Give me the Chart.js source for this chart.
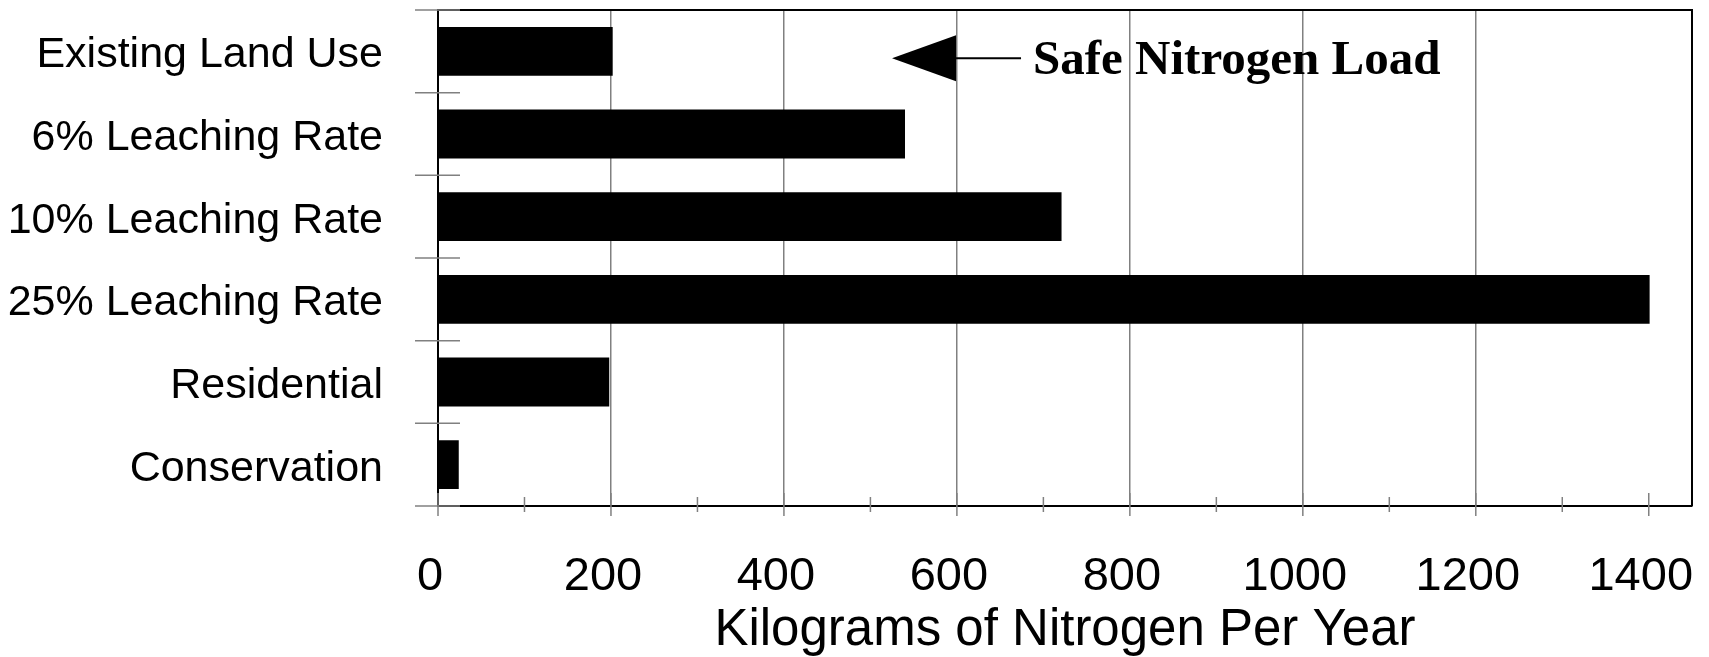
<!DOCTYPE html>
<html>
<head>
<meta charset="utf-8">
<script src="https://cdn.jsdelivr.net/npm/chart.js@4/dist/chart.umd.min.js"></script>
<style>
  body { margin: 0; background: #fff; }
  #box { width: 1709px; height: 657px; }
</style>
</head>
<body>
<div id="box"><canvas id="nitrogenChart"></canvas></div>
<script>
const categories = [
  "Existing Land Use",
  "6% Leaching Rate",
  "10% Leaching Rate",
  "25% Leaching Rate",
  "Residential",
  "Conservation",
];
const loads = [202, 540, 721, 1401, 198, 24];
const xMin = 0;
const xMax = 1450;
const xStep = 100;
const xLabelStep = 200;
const xTitle = "Kilograms of Nitrogen Per Year";
const noteText = "Safe Nitrogen Load";
const noteValue = 525;

const gray = "#808080";
const sans = "'Liberation Sans', Arial, sans-serif";

const extras = {
  id: "extras",
  afterDraw(chart) {
    const { ctx, chartArea: area } = chart;
    const x = chart.scales.x;
    const y = chart.scales.y;
    ctx.save();

    // top and right frame
    ctx.strokeStyle = "#000";
    ctx.lineWidth = 2;
    ctx.beginPath();
    ctx.moveTo(area.left, area.top);
    ctx.lineTo(area.right, area.top);
    ctx.lineTo(area.right, area.bottom);
    ctx.stroke();

    // tick marks that cross the axes
    ctx.strokeStyle = gray;
    ctx.lineWidth = 1.5;
    x.ticks.forEach((t) => {
      const px = x.getPixelForValue(t.value);
      const major = t.value % xLabelStep === 0;
      ctx.beginPath();
      ctx.moveTo(px, area.bottom - (major ? 13 : 9));
      ctx.lineTo(px, area.bottom + (major ? 10 : 6));
      ctx.stroke();
    });
    for (let i = 0; i <= categories.length; i++) {
      const py = y.getPixelForValue(i - 0.5);
      ctx.beginPath();
      ctx.moveTo(area.left - 23, py);
      ctx.lineTo(area.left + 22, py);
      ctx.stroke();
    }

    // arrow + note
    const tx = x.getPixelForValue(noteValue);
    const cy = y.getPixelForValue(0) + 7;
    ctx.fillStyle = "#000";
    ctx.beginPath();
    ctx.moveTo(tx, cy);
    ctx.lineTo(tx + 64, cy - 23);
    ctx.lineTo(tx + 64, cy + 23);
    ctx.closePath();
    ctx.fill();
    ctx.strokeStyle = "#000";
    ctx.lineWidth = 2;
    ctx.beginPath();
    ctx.moveTo(tx + 64, cy);
    ctx.lineTo(tx + 129, cy);
    ctx.stroke();
    ctx.font = "bold 49px 'Liberation Serif', 'Times New Roman', serif";
    ctx.textBaseline = "alphabetic";
    ctx.textAlign = "left";
    ctx.fillText(noteText, tx + 141, cy + 16);
    ctx.restore();
  },
};

const nitrogenChart = new Chart(document.getElementById("nitrogenChart"), {
  type: "bar",
  data: {
    labels: categories,
    datasets: [
      {
        data: loads,
        backgroundColor: "#000",
        borderWidth: 0,
        barPercentage: 0.59,
        categoryPercentage: 1,
      },
    ],
  },
  options: {
    indexAxis: "y",
    responsive: true,
    maintainAspectRatio: false,
    animation: false,
    layout: { padding: { top: 10, right: 17, left: 0, bottom: 0 } },
    plugins: {
      legend: { display: false },
      tooltip: { enabled: false },
    },
    scales: {
      x: {
        min: xMin,
        max: xMax,
        afterFit: (scale) => {
          scale.height = 151;
          scale.paddingLeft = 0;
          scale.paddingRight = 0;
        },
        title: {
          display: true,
          text: xTitle,
          color: "#000",
          padding: { top: 0, bottom: 1 },
          font: { family: sans, size: 51, lineHeight: 1 },
        },
        grid: {
          drawTicks: false,
          lineWidth: 1.5,
          color: (c) => {
            const v = c.tick ? c.tick.value : 0;
            return v > 0 && v < 1400 && v % xLabelStep === 0 ? gray : "rgba(0,0,0,0)";
          },
        },
        border: { color: "#000", width: 2 },
        ticks: {
          stepSize: xStep,
          includeBounds: false,
          autoSkip: false,
          maxRotation: 0,
          padding: 43,
          labelOffset: -8,
          color: "#000",
          font: { family: sans, size: 47 },
          callback: (v) => (v % xLabelStep === 0 ? v : ""),
        },
      },
      y: {
        afterFit: (scale) => {
          scale.width = 438;
          scale.paddingTop = 0;
          scale.paddingBottom = 0;
        },
        grid: { display: false, drawTicks: false },
        border: { color: "#000", width: 2 },
        ticks: {
          padding: 55,
          labelOffset: 4,
          color: "#000",
          font: { family: sans, size: 43 },
        },
      },
    },
  },
  plugins: [extras],
});
</script>
</body>
</html>
